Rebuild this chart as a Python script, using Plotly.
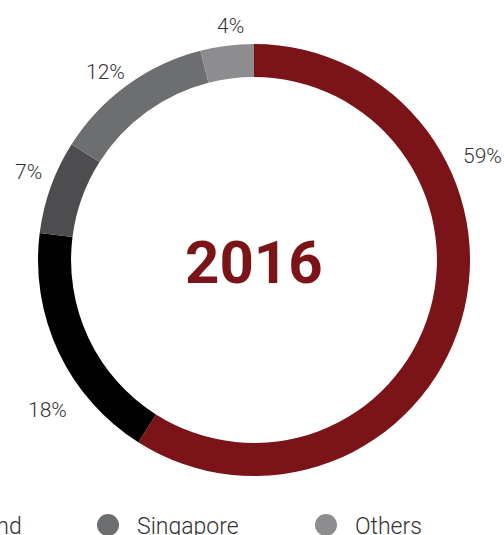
import plotly.graph_objects as go

# donut data (clockwise from 12 o'clock)
labels = ["Hong Kong", "Malaysia", "Thailand", "Singapore", "Others"]
values = [59, 18, 7, 12, 4]
colors = ["#7b1418", "#010101", "#4d4d4f", "#6d6e70", "#8d8d8f"]
center_text = "2016"

# percent label positions (px, from top-left) as in the source layout
label_pos = [(482, 156), (47, 410), (28, 172), (105, 72), (230, 26)]

# the legend row is cropped on the left, only the last three entries show
legend_items = [2, 3, 4]
legend_marker_x = [-110, 108, 326]

W, H = 504, 535

fig = go.Figure(go.Pie(
    labels=labels,
    values=values,
    marker=dict(colors=colors, line=dict(color="white", width=0)),
    hole=0.847,
    sort=False,
    direction="clockwise",
    rotation=0,
    textinfo="none",
    showlegend=False,
    domain=dict(x=[(254 - 216) / W, (254 + 216) / W],
                y=[(H - 476) / H, (H - 44) / H]),
))

annotations = [dict(
    text=center_text, x=254 / W, y=(H - 262) / H, xref="paper", yref="paper",
    xanchor="center", yanchor="middle", showarrow=False,
    font=dict(family="Roboto", size=60, color="#7b1418", weight="bold"),
)]

for v, (px, py) in zip(values, label_pos):
    annotations.append(dict(
        text=f"{v}%", x=px / W, y=(H - py) / H, xref="paper", yref="paper",
        xanchor="center", yanchor="middle", showarrow=False,
        font=dict(family="Roboto", size=21, color="#333333", weight=300),
    ))

shapes = []
for i, mx in zip(legend_items, legend_marker_x):
    shapes.append(dict(
        type="circle", xref="paper", yref="paper",
        xsizemode="pixel", ysizemode="pixel",
        xanchor=mx / W, yanchor=(H - 525) / H,
        x0=-11, x1=11, y0=-11, y1=11,
        fillcolor=colors[i], line=dict(width=0),
    ))
    # first visible entry is cut by the left edge; anchor it by its right end
    first = mx < 0
    annotations.append(dict(
        text=labels[i], x=(24 if first else mx + 27) / W, y=(H - 526) / H,
        xref="paper", yref="paper",
        xanchor="right" if first else "left", yanchor="middle", showarrow=False,
        font=dict(family="Roboto", size=23, color="#333333", weight=300),
    ))

fig.update_layout(
    width=W, height=H,
    margin=dict(l=0, r=0, t=0, b=0),
    paper_bgcolor="white",
    plot_bgcolor="white",
    annotations=annotations,
    shapes=shapes,
)

fig.write_html("out.html", config={"displayModeBar": False},
               post_script="document.body.style.margin='0';")
